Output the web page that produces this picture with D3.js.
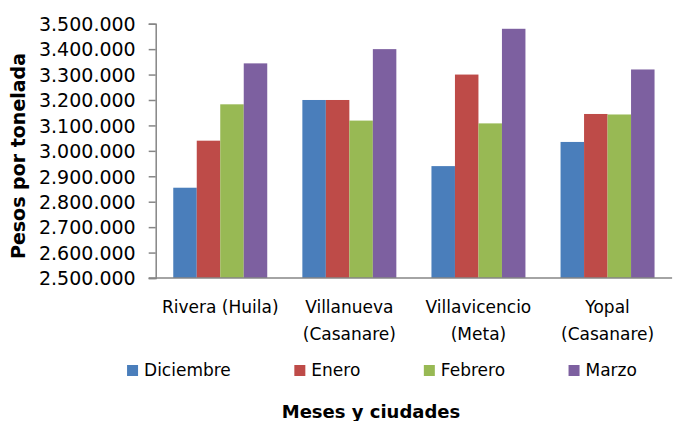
<!DOCTYPE html>
<html>
<head>
<meta charset="utf-8">
<script src="https://cdn.jsdelivr.net/npm/d3@7"></script>
<style>
  html, body { margin: 0; padding: 0; background: #fff; }
  svg { display: block; font-family: "DejaVu Sans", sans-serif; }
</style>
</head>
<body>
<svg id="chart" width="678" height="421"></svg>
<script>
// ---- Data ----
const categories = [["Rivera (Huila)"], ["Villanueva", "(Casanare)"], ["Villavicencio", "(Meta)"], ["Yopal", "(Casanare)"]];
const seriesNames = ["Diciembre", "Enero", "Febrero", "Marzo"];
const diciembre = [2855000, 3200000, 2940000, 3035000];
const enero     = [3040000, 3200000, 3300000, 3145000];
const febrero   = [3183000, 3119000, 3108000, 3143000];
const marzo     = [3344000, 3400000, 3480000, 3320000];
const yTicks = [2500000, 2600000, 2700000, 2800000, 2900000, 3000000, 3100000, 3200000, 3300000, 3400000, 3500000];
const yTitle = "Pesos por tonelada";
const xTitle = "Meses y ciudades";

const seriesValues = [diciembre, enero, febrero, marzo];
const colors = ["#4A7EBB", "#BE4B48", "#98B954", "#7D60A0"];

// ---- Layout ----
const svg = d3.select("#chart");
const plotL = 155.7, plotR = 672.1, plotT = 23.7, plotB = 278;

const x0 = d3.scaleBand().domain(d3.range(categories.length)).range([plotL, plotR])
  .paddingInner(0.272).paddingOuter(0.136);
const x1 = d3.scaleBand().domain(d3.range(seriesNames.length)).range([0, x0.bandwidth()]);
const y = d3.scaleLinear().domain([2500000, 3500000]).range([plotB, plotT]);

const locale = d3.formatLocale({decimal: ",", thousands: ".", grouping: [3], currency: ["$", ""]});
const fmt = locale.format(",.0f");

// bars
const groups = svg.append("g").selectAll("g")
  .data(categories.map((c, i) => i))
  .join("g")
  .attr("transform", i => `translate(${x0(i)},0)`);

groups.selectAll("rect")
  .data(i => seriesValues.map((vals, s) => ({s, v: vals[i]})))
  .join("rect")
  .attr("x", d => x1(d.s))
  .attr("width", x1.bandwidth())
  .attr("y", d => y(d.v))
  .attr("height", d => y(2500000) - y(d.v))
  .attr("fill", d => colors[d.s]);

// y axis
const yAxis = d3.axisLeft(y).tickValues(yTicks).tickFormat(fmt).tickSize(7).tickPadding(13);
const gy = svg.append("g").attr("transform", `translate(${plotL},0)`).call(yAxis);
gy.select(".domain").attr("stroke", "#868686").attr("stroke-width", 1.5);
gy.selectAll(".tick line").attr("stroke", "#868686").attr("stroke-width", 1.5);
gy.selectAll(".tick text").attr("fill", "#000").style("font-size", "19px")
  .style("font-family", "DejaVu Sans").attr("dy", "0.36em");

// x axis line
svg.append("line")
  .attr("x1", plotL - 7).attr("x2", plotR)
  .attr("y1", plotB).attr("y2", plotB)
  .attr("stroke", "#868686").attr("stroke-width", 1.5);

// category labels
const catText = svg.append("g").selectAll("text")
  .data(categories.map((c, i) => ({c, i})))
  .join("text")
  .attr("text-anchor", "middle")
  .attr("x", d => x0(d.i) + x0.bandwidth() / 2)
  .attr("y", 313)
  .style("font-size", "17px")
  .attr("fill", "#000");
catText.selectAll("tspan")
  .data(d => d.c.map((line, k) => ({line, k, x: x0(d.i) + x0.bandwidth() / 2})))
  .join("tspan")
  .attr("x", d => d.x)
  .attr("dy", d => d.k === 0 ? 0 : 27)
  .text(d => d.line);

// y title
svg.append("text")
  .attr("transform", `translate(25,156) rotate(-90)`)
  .attr("text-anchor", "middle")
  .style("font-size", "19px")
  .style("font-weight", "bold")
  .attr("fill", "#000")
  .text(yTitle);

// x title
svg.append("text")
  .attr("x", 371).attr("y", 418)
  .attr("text-anchor", "middle")
  .style("font-size", "18px")
  .style("font-weight", "bold")
  .attr("fill", "#000")
  .text(xTitle);

// legend
const legend = svg.append("g");
const items = legend.selectAll("g").data(seriesNames.map((n, i) => ({n, i}))).join("g");
items.append("rect").attr("width", 11).attr("height", 11).attr("y", 365).attr("fill", d => colors[d.i]);
items.append("text").attr("x", 17).attr("y", 376).style("font-size", "17px").attr("fill", "#000").text(d => d.n);
const widths = [];
items.each(function() {
  const w = this.querySelector("text").getComputedTextLength();
  widths.push(17 + w);
});
const gap = 63.5;
const total = d3.sum(widths) + gap * (widths.length - 1);
let cx = 382 - total / 2;
items.attr("transform", (d, i) => {
  const t = `translate(${cx},0)`;
  cx += widths[i] + gap;
  return t;
});
</script>
</body>
</html>
